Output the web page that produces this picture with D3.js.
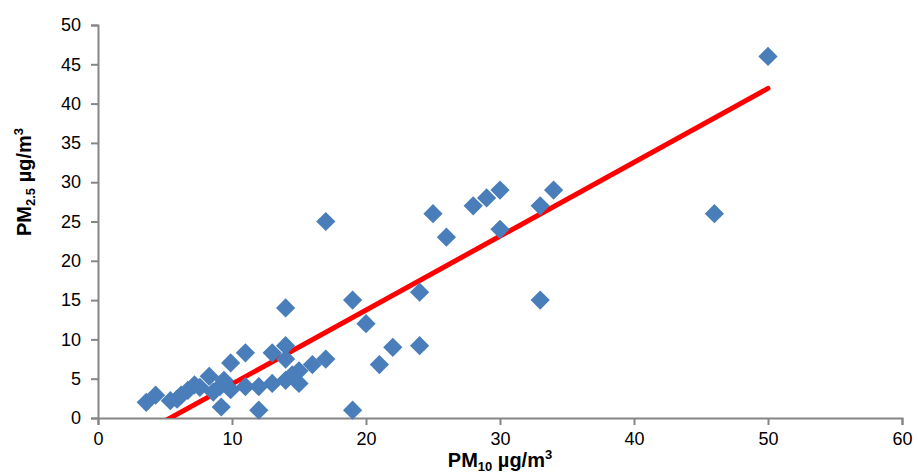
<!DOCTYPE html>
<html>
<head>
<meta charset="utf-8">
<script src="https://cdn.jsdelivr.net/npm/d3@7"></script>
<style>
  body { margin: 0; background: #fff; }
  text { font-family: "Liberation Sans", Arial, sans-serif; fill: #000; }
  .axis path, .axis line { stroke: #868686; stroke-width: 2; }
  .axis text { font-size: 18px; }
  .axis-title { font-size: 20px; font-weight: bold; }
</style>
</head>
<body>
<svg width="918" height="473"></svg>
<script>
// PM10 (x) and PM2.5 (y)
const pm10 = [3.6, 4.3, 5.4, 5.9, 6.2, 6.7, 7.2, 7.6, 8.3, 8.6, 9.1, 9.2, 9.4, 9.9, 9.9,
    11, 11, 12, 12, 13, 13, 14, 14, 14, 14, 14.5, 15, 15, 16, 17, 17,
    19, 19, 20, 21, 22, 24, 24, 25, 26, 28, 29, 30, 30, 33, 33, 34, 46, 50];
const pm25 = [2.0, 2.9, 2.2, 2.4, 2.9, 3.5, 4.2, 3.9, 5.3, 3.3, 4.0, 1.4, 4.8, 3.6, 7.0,
    8.3, 4.0, 1.0, 4.0, 4.4, 8.3, 14, 9.2, 7.5, 4.8, 5.5, 4.4, 6.0, 6.8, 7.5, 25,
    15, 1.0, 12, 6.8, 9.0, 16, 9.2, 26, 23, 27, 28, 29, 24, 27, 15, 29, 26, 46];

// linear trend line
const trendSlope = 0.94, trendIntercept = -5.07;
const trendRange = [3.6, 50];

const xTicks = [0, 10, 20, 30, 40, 50, 60];
const yTicks = [0, 5, 10, 15, 20, 25, 30, 35, 40, 45, 50];

const svg = d3.select("svg"),
    margin = {top: 25, right: 16, bottom: 55, left: 98},
    width = +svg.attr("width") - margin.left - margin.right,
    height = +svg.attr("height") - margin.top - margin.bottom;

const x = d3.scaleLinear().domain([0, 60]).range([0, width]),
    y = d3.scaleLinear().domain([0, 50]).range([height, 0]);

const g = svg.append("g")
    .attr("transform", `translate(${margin.left},${margin.top})`);

g.append("clipPath").attr("id", "plot")
  .append("rect").attr("width", width).attr("height", height);

// y axis
g.append("g")
    .attr("class", "axis")
    .call(d3.axisLeft(y).tickValues(yTicks).tickSize(7).tickSizeOuter(7).tickPadding(10));

// x axis
g.append("g")
    .attr("class", "axis")
    .attr("transform", `translate(0,${height})`)
    .call(d3.axisBottom(x).tickValues(xTicks).tickSize(7).tickSizeOuter(7).tickPadding(7));

// trend line
const trend = trendRange.map(v => [v, trendSlope * v + trendIntercept]);
g.append("path")
    .datum(trend)
    .attr("clip-path", "url(#plot)")
    .attr("fill", "none")
    .attr("stroke", "#ff0000")
    .attr("stroke-width", 5)
    .attr("stroke-linecap", "round")
    .attr("d", d3.line().x(d => x(d[0])).y(d => y(d[1])));

// points
const diamond = d3.symbol().type(d3.symbolSquare).size(185);
g.selectAll(".pt")
    .data(pm10.map((v, i) => [v, pm25[i]]))
    .enter().append("path")
    .attr("class", "pt")
    .attr("d", diamond)
    .attr("fill", "#4a7ebb")
    .attr("transform", d => `translate(${x(d[0])},${y(d[1])}) rotate(45)`);

// axis titles
const xt = svg.append("text")
    .attr("class", "axis-title")
    .attr("x", margin.left + x(30))
    .attr("y", 467)
    .attr("text-anchor", "middle");
xt.append("tspan").text("PM");
xt.append("tspan").attr("font-size", "13px").attr("dy", 4).text("10");
xt.append("tspan").attr("dy", -4).text(" µg/m");
xt.append("tspan").attr("font-size", "13px").attr("dy", -8).text("3");

const yt = svg.append("text")
    .attr("class", "axis-title")
    .attr("transform", "translate(31,182) rotate(-90)")
    .attr("text-anchor", "middle");
yt.append("tspan").text("PM");
yt.append("tspan").attr("font-size", "13px").attr("dy", 4).text("2.5");
yt.append("tspan").attr("dy", -4).text(" µg/m");
yt.append("tspan").attr("font-size", "13px").attr("dy", -8).text("3");
</script>
</body>
</html>
